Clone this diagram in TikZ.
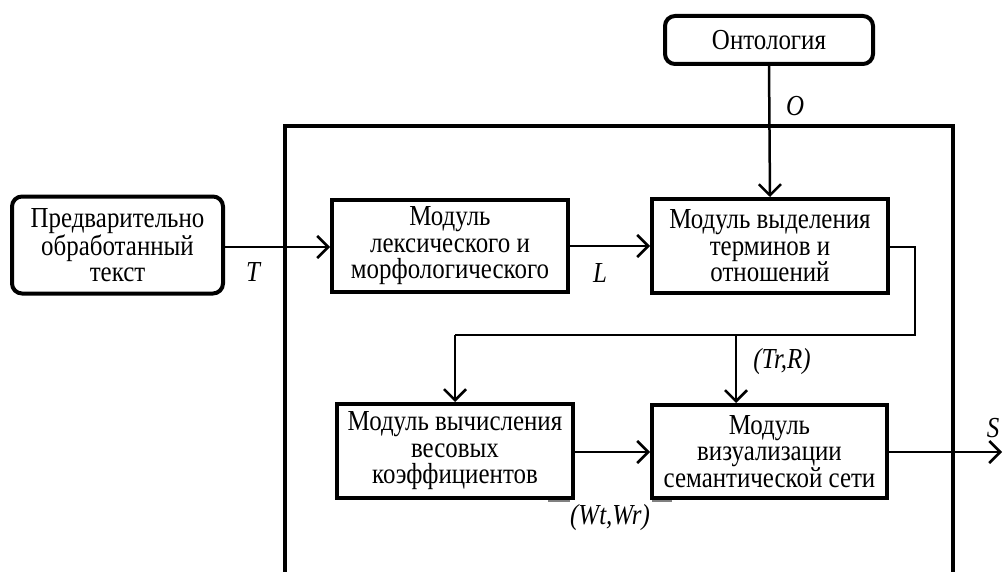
\documentclass[tikz,border=0pt]{standalone}
\usepackage{fontspec}
\setmainfont{Liberation Serif}[FakeStretch=0.86]
\usetikzlibrary{arrows.meta}
\tikzset{
  modbox/.style={draw, line width=4pt, align=center, inner sep=0pt,
    font=\fontsize{29}{26.5}\selectfont},
  rbox/.style={modbox, rounded corners=10pt},
  arr/.style={line width=2.5pt, -{Straight Barb[length=11pt,width=22pt]}},
  thinl/.style={line width=1.8pt},
  lbl/.style={font=\fontsize{29}{26}\selectfont\itshape, inner sep=0pt},
  frameline/.style={line width=4.5pt},
  smark/.style={line width=1.5pt, gray}
}
\begin{document}
\begin{tikzpicture}[x=1pt,y=-1pt]
\useasboundingbox (0,0) rectangle (1003,572);
\fill[white] (0,0) rectangle (1003,572);
% frame
\draw[frameline] (285,572) -- (285,126) -- (953,126) -- (953,572);
% nodes
\node[rbox, minimum width=208pt, minimum height=48pt] (onto) at (769,40) {Онтология};
\node[rbox, minimum width=211pt, minimum height=97pt] (pre) at (117.5,245) {Предварительно\\обработанный\\текст};
\node[modbox, minimum width=236pt, minimum height=92pt] (lex) at (450,246) {Модуль\\лексического и\\морфологического};
\node[modbox, minimum width=236pt, minimum height=94pt] (terms) at (770,246) {Модуль выделения\\терминов и\\отношений};
\node[modbox, minimum width=236pt, minimum height=94pt] (wts) at (455,451) {Модуль вычисления\\весовых\\коэффициентов};
\node[modbox, minimum width=235pt, minimum height=93pt] (viz) at (769.5,451.5) {Модуль\\визуализации\\семантической сети};
% coordinates
\coordinate (c1) at (915,247);
\coordinate (c2) at (915,335);
\coordinate (c3) at (455,335);
\coordinate (j) at (736,335);
\coordinate (out) at (1002,452);
% connectors
\draw[arr] (pre.east |- 0,247) -- (lex.west |- 0,247);
\draw[arr] (lex.east |- 0,246) -- (terms.west |- 0,246);
\draw[arr] (onto.south) -- (terms.north);
\draw[thinl] (terms.east |- c1) -- (c1) -- (c2) -- (c3);
\draw[arr] (c3) -- (wts.north);
\draw[arr] (j) -- (j |- viz.north);
\draw[arr] (wts.east |- 0,452) -- (viz.west |- 0,452);
\draw[arr] (viz.east |- out) -- (out);
% labels
\node[lbl] (lT) at (253,272) {T};
\node[lbl] (lL) at (600,273) {L};
\node[lbl] (lO) at (795,106) {O};
\node[lbl] (lTR) at (782,362) {(Tr,R)};
\node[lbl] (lW) at (610,518) {(Wt,Wr)};
\node[lbl] (lS) at (993,428) {S};
% small marks
\draw[smark] (548,501) -- (570,501);
\draw[smark] (652,501) -- (672,501);
\end{tikzpicture}
\end{document}
